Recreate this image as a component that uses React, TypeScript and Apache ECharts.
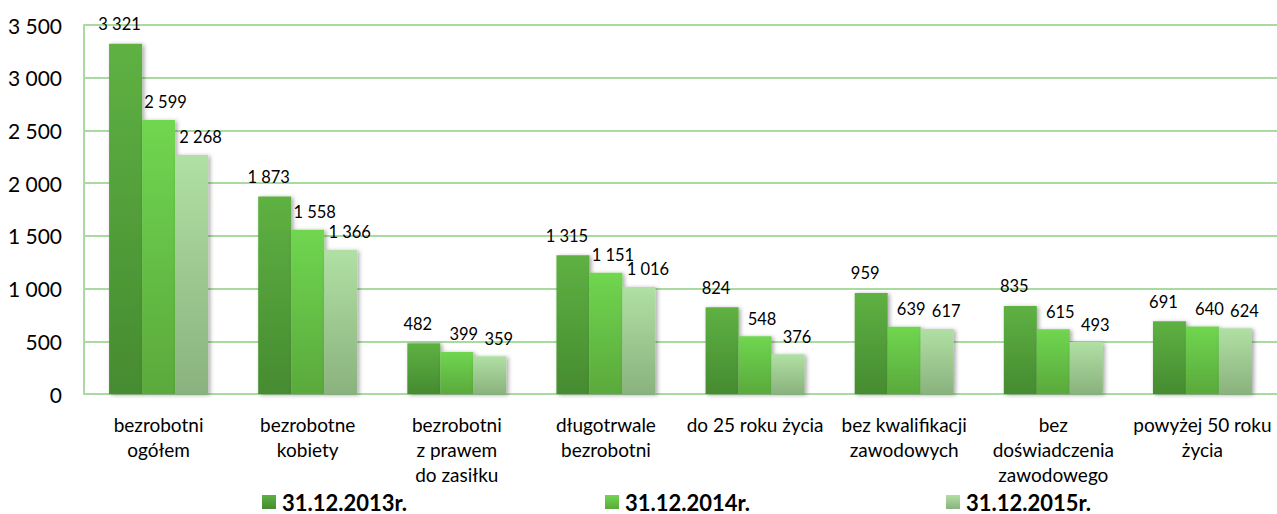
import React, { useEffect, useRef } from "react";
import * as echarts from "echarts";

const categories = [
  "bezrobotni\nogółem",
  "bezrobotne\nkobiety",
  "bezrobotni\nz prawem\ndo zasiłku",
  "długotrwale\nbezrobotni",
  "do 25 roku życia",
  "bez kwalifikacji\nzawodowych",
  "bez\ndoświadczenia\nzawodowego",
  "powyżej 50 roku\nżycia",
];
const seriesNames = ["31.12.2013r.", "31.12.2014r.", "31.12.2015r."];
const values2013 = [3321, 1873, 482, 1315, 824, 959, 835, 691];
const values2014 = [2599, 1558, 399, 1151, 548, 639, 615, 640];
const values2015 = [2268, 1366, 359, 1016, 376, 617, 493, 624];

const FONT = "Lato, 'Open Sans', sans-serif";
const fmt = (v: number) => String(v).replace(/\B(?=(\d{3})+(?!\d))/g, " ");

const palettes = [
  { top: "#5eb143", bottom: "#468b30" },
  { top: "#70d650", bottom: "#5aa93c" },
  { top: "#b0e0a3", bottom: "#8ab27e" },
];
const labelOffsets: [number, number][] = [
  [-6, -2],
  [7, 0],
  [9, 0],
];

export default function App() {
  const ref = useRef<HTMLDivElement>(null);
  useEffect(() => {
    if (!ref.current) return;
    const chart = echarts.init(ref.current, undefined, { renderer: "svg" });
    const all = [values2013, values2014, values2015];
    const grad = (p: { top: string; bottom: string }) =>
      new echarts.graphic.LinearGradient(0, 0, 0, 1, [
        { offset: 0, color: p.top },
        { offset: 1, color: p.bottom },
      ]);
    chart.setOption({
      animation: false,
      backgroundColor: "#ffffff",
      grid: { left: 84, top: 25, width: 1195, bottom: 120, containLabel: false },
      legend: seriesNames.map((name, i) => ({
        data: [name],
        left: [262, 605, 946][i],
        top: 491,
        itemWidth: 14,
        itemHeight: 14,
        itemGap: 0,
        padding: 0,
        icon: "rect",
        textStyle: {
          fontFamily: FONT,
          fontWeight: "bold",
          fontSize: 22,
          lineHeight: 21,
          color: "#000",
          padding: [0, 0, 0, 1],
        },
      })),
      xAxis: {
        type: "category",
        data: categories,
        axisLine: { show: false },
        axisTick: { show: false },
        axisLabel: {
          interval: 0,
          margin: 18,
          fontFamily: FONT,
          fontSize: 19,
          lineHeight: 25,
          color: "#000",
          verticalAlign: "top",
        },
      },
      yAxis: {
        type: "value",
        min: 0,
        max: 3500,
        interval: 500,
        axisLine: { show: true, lineStyle: { color: "#a9dba0", width: 2 } },
        axisTick: { show: false },
        splitLine: { lineStyle: { color: "#a9dba0", width: 2 } },
        axisLabel: {
          margin: 22,
          fontFamily: FONT,
          fontSize: 21,
          color: "#000",
          formatter: (v: number) => fmt(v),
        },
      },
      series: all.map((vals, i) => ({
        name: seriesNames[i],
        type: "bar",
        data: vals,
        barWidth: 33,
        barGap: "0%",
        itemStyle: {
          color: grad(palettes[i]),
          shadowBlur: 4,
          shadowOffsetX: 2,
          shadowOffsetY: 1,
          shadowColor: "rgba(0,0,0,0.35)",
        },
        label: {
          show: true,
          position: "top",
          distance: 9,
          offset: labelOffsets[i],
          fontFamily: FONT,
          fontSize: 16.5,
          color: "#000",
          formatter: (p: any) => fmt(p.value),
        },
      })),
    });
    return () => chart.dispose();
  }, []);
  return (
    <div
      ref={ref}
      style={{ position: "fixed", left: 0, top: 0, width: 1277, height: 514 }}
    />
  );
}
